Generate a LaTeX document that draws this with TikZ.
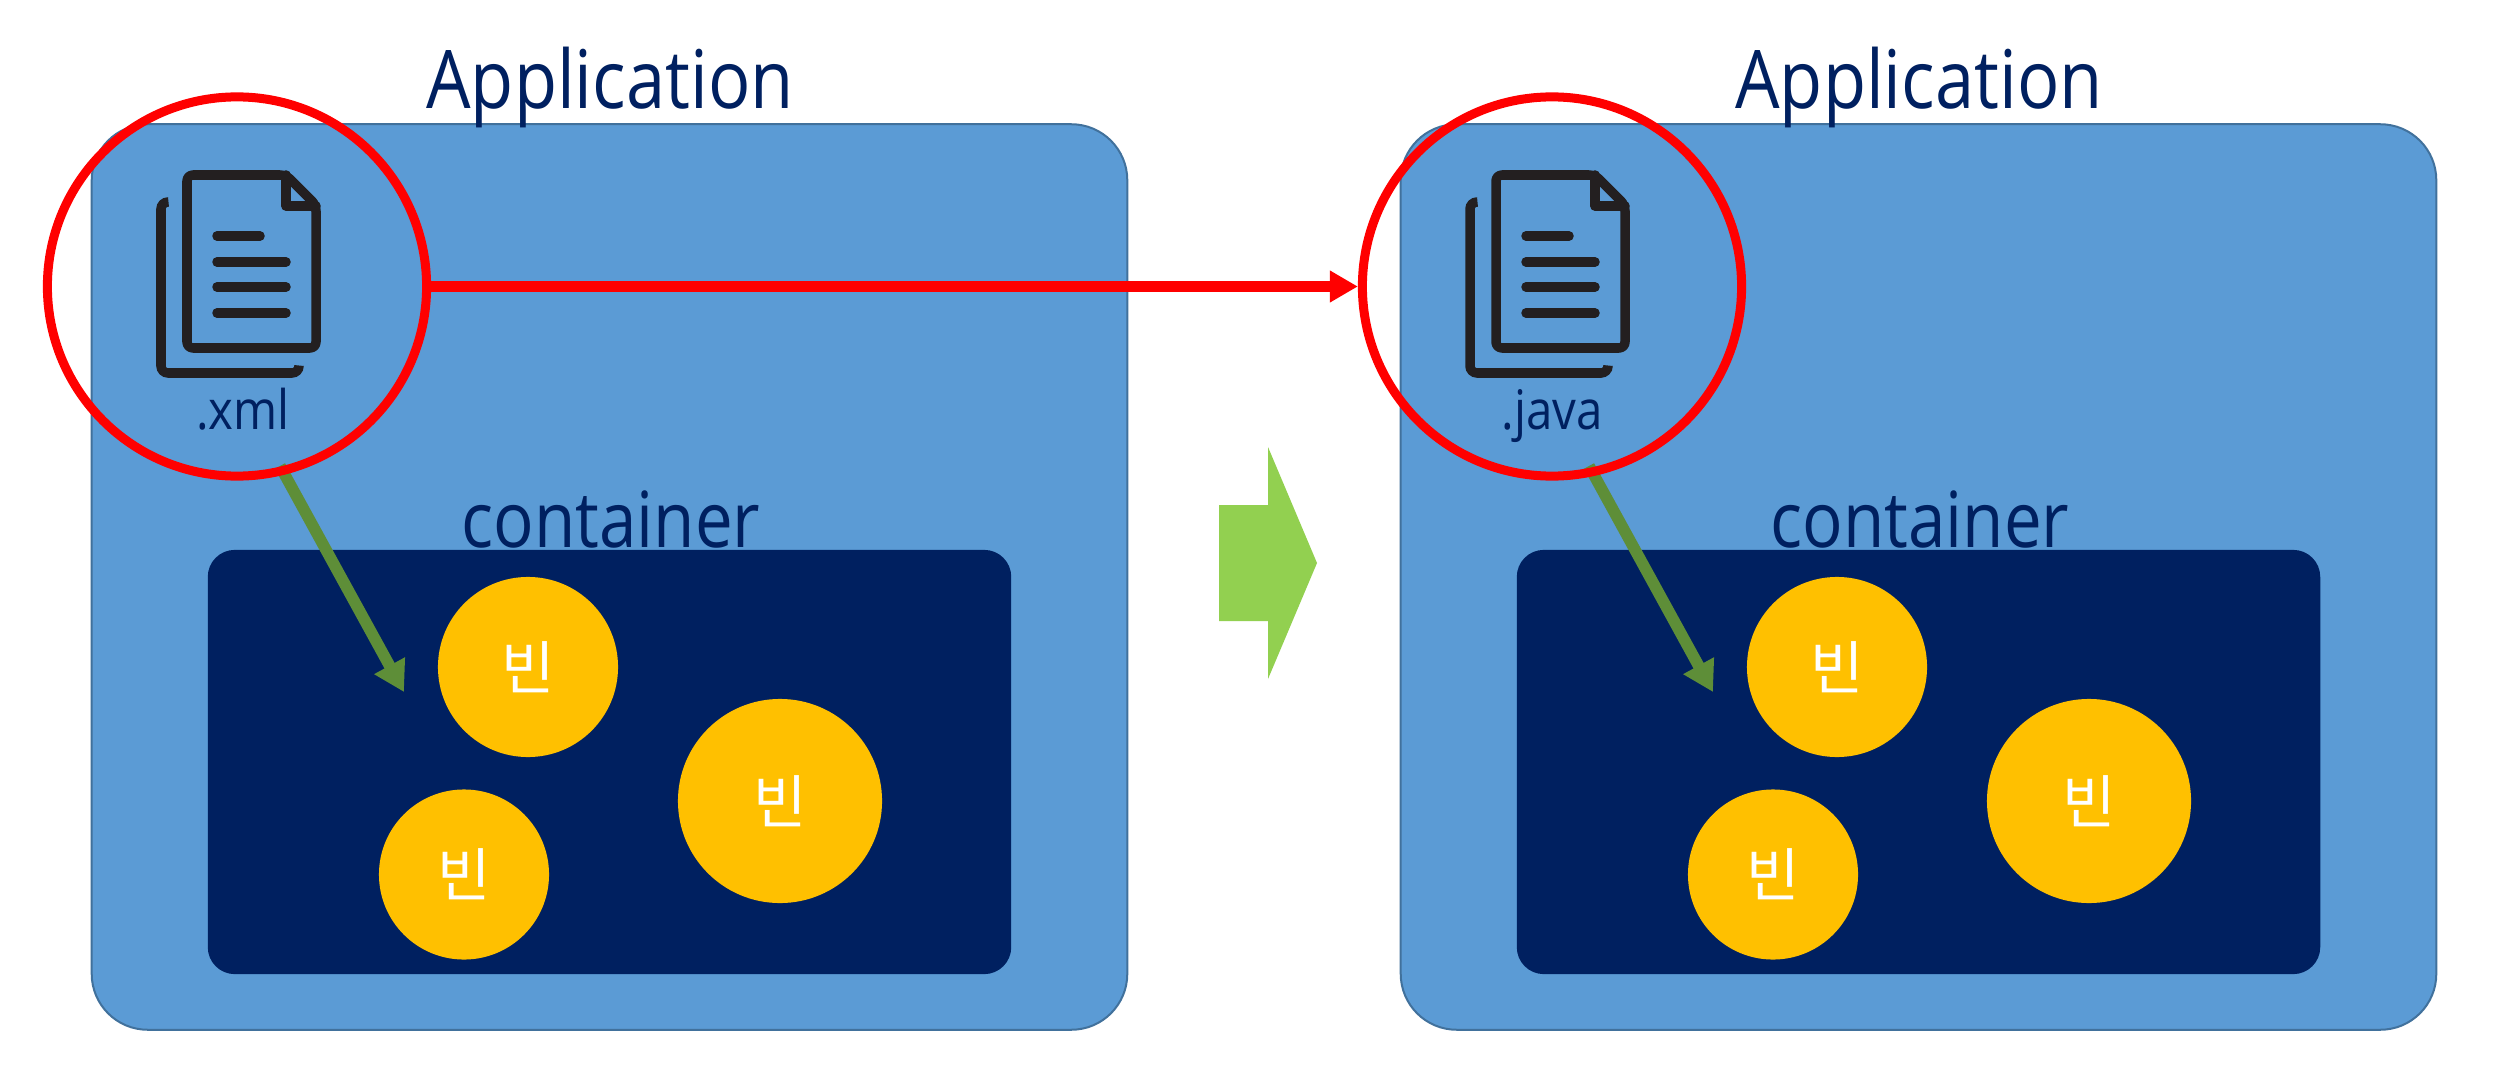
\documentclass[tikz,border=0pt]{standalone}
\usepackage{fontspec}
\setmainfont{Open Sans}[FakeStretch=0.87]
\newfontfamily\beanfont{Noto Sans CJK KR}
\usetikzlibrary{arrows.meta}
\definecolor{appblue}{HTML}{5B9BD5}
\definecolor{appline}{HTML}{41719C}
\definecolor{navy}{HTML}{002060}
\definecolor{beanyellow}{HTML}{FFC000}
\definecolor{inkblack}{HTML}{231F20}
\definecolor{leafgreen}{HTML}{5E8E38}
\definecolor{limegreen}{HTML}{92D050}
\tikzset{
  appbox/.style={draw=appline,line width=0.02cm,fill=appblue,rounded corners=0.56cm,
    minimum width=10.35cm,minimum height=9.05cm,inner sep=0},
  containerbox/.style={fill=navy,rounded corners=0.27cm,
    minimum width=8.03cm,minimum height=4.24cm,inner sep=0},
  bean/.style={circle,fill=beanyellow,inner sep=0,text=white,font=\beanfont\fontsize{16.5}{20}\selectfont},
  bigtitle/.style={anchor=base,inner sep=0,text=navy,font=\fontsize{23}{28}\selectfont},
  cntlabel/.style={anchor=base,inner sep=0,text=navy,font=\fontsize{22}{28}\selectfont},
  filelabel/.style={anchor=base,inner sep=0,text=navy,font=\fontsize{15.5}{18}\selectfont},
  ring/.style={circle,draw=red,line width=0.09cm,minimum size=3.79cm,inner sep=0},
  loadarrow/.style={draw=leafgreen,line width=0.115cm,-{Triangle[length=0.3cm,width=0.33cm]}},
  copyarrow/.style={draw=red,line width=0.115cm,-{Triangle[length=0.28cm,width=0.3cm]}},
  docicon/.pic={
    \draw[inkblack,line width=0.095cm,line cap=round,line join=round,rounded corners=0.06cm]
      (286,175) -- (187,175) -- (187,348) -- (316,348) -- (316,205) -- cycle;
    \draw[inkblack,line width=0.095cm,line cap=round,line join=round]
      (286,175) -- (286,206) -- (316,206);
    \draw[inkblack,line width=0.095cm,line cap=round,rounded corners=0.07cm]
      (168,202) -- (161,202) -- (161,373) -- (299,373) -- (299,366);
    \draw[inkblack,line width=0.095cm,line cap=round] (217,236) -- (260,236);
    \foreach \liney in {262,287,313}
      \draw[inkblack,line width=0.095cm,line cap=round] (217,\liney) -- (286,\liney);
  }
}

\begin{document}
\begin{tikzpicture}[x=0.01cm,y=-0.01cm]
    \useasboundingbox (0,0) rectangle (2515,1076);
    \foreach \dx/\ringx/\ext/\side in {0/237/.xml/a,1309/1552/.java/b}{
      \node[appbox] (app\side) at (609.5+\dx,577) {};
      \node[bigtitle] (title\side) at (610+\dx,109) {Application};
      \node[cntlabel] (label\side) at (611+\dx,547) {container};
      \node[containerbox] (cont\side) at (609.5+\dx,762) {};
      \node[bean,minimum size=1.8cm] (beanone\side) at (528+\dx,667) {빈};
      \node[bean,minimum size=2.04cm] (beantwo\side) at (780+\dx,801) {빈};
      \node[bean,minimum size=1.7cm] (beanthree\side) at (464+\dx,874.5) {빈};
      \pic at (\dx,0) {docicon};
      \node[filelabel] (file\side) at (243+\dx,429) {\ext};
      \coordinate (from\side) at (280+\dx,466);
      \coordinate (to\side) at (404+\dx,692);
      \draw[loadarrow] (from\side) -- (to\side);
      \node[ring] (ring\side) at (\ringx,286.5) {};
    }
    \draw[copyarrow] (ringa.east) -- (ringb.west);
    \fill[limegreen] (1219,505) -- (1268,505) -- (1268,447) -- (1317,563)
      -- (1268,679) -- (1268,621) -- (1219,621) -- cycle;
\end{tikzpicture}
\end{document}
